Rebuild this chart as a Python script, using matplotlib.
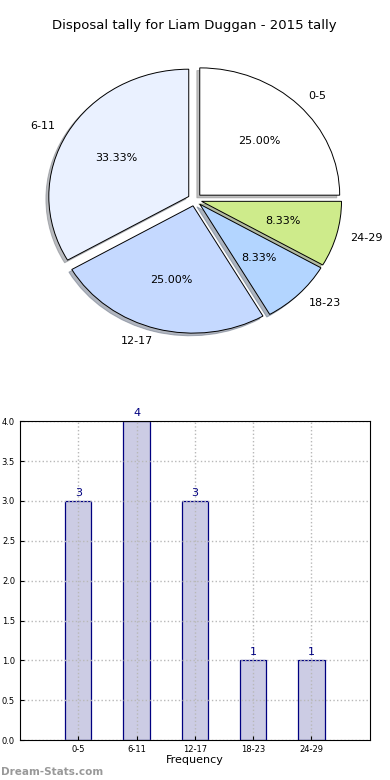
import matplotlib
matplotlib.use("Agg")
import matplotlib.pyplot as plt

# Disposal tally data
bins = ["0-5", "6-11", "12-17", "18-23", "24-29"]
counts = [3, 4, 3, 1, 1]
pie_colors = ["#ffffff", "#eaf1ff", "#c5d9ff", "#b3d5ff", "#ceeb8b"]

fig = plt.figure(figsize=(3.9, 7.8), dpi=100)

# Pie chart (top)
ax1 = fig.add_axes([0.051, 0.540, 0.897, 0.408])
wedges, texts, autotexts = ax1.pie(
    counts, labels=bins, colors=pie_colors, autopct="%.2f%%",
    explode=[0.05] * len(counts),
    shadow={"ox": -0.015, "oy": -0.015, "shade": 0.5}, startangle=0,
    wedgeprops={"edgecolor": "black", "linewidth": 0.7},
    textprops={"fontsize": 8},
)
ax1.set_aspect("auto")
ax1.set_xlim(-1.25, 1.25)
ax1.set_ylim(-1.25, 1.25)
ax1.set_title("Disposal tally for Liam Duggan - 2015 tally", fontsize=9.5, pad=8)

# Bar chart (bottom)
ax2 = fig.add_axes([0.051, 0.051, 0.897, 0.409])
x = list(range(len(bins)))
bars = ax2.bar(x, counts, width=0.45, color="#ccccE4", edgecolor="#000080", linewidth=0.9)
for xi, c in zip(x, counts):
    ax2.text(xi, c + 0.04, str(c), ha="center", va="bottom", fontsize=8, color="#000080")
ax2.set_xlim(-1, 5)
ax2.set_ylim(0, 4)
ax2.set_xticks(x)
ax2.set_xticklabels(bins, fontsize=6)
ax2.set_yticks([i * 0.5 for i in range(9)])
ax2.tick_params(axis="y", labelsize=6)
ax2.tick_params(length=3, direction="in")
ax2.grid(True, linestyle=":", color="#b8b8b8", linewidth=1)
ax2.set_axisbelow(False)
for sp in ax2.spines.values():
    sp.set_zorder(5)
ax2.set_xlabel("Frequency", fontsize=8, labelpad=1)

# Watermark
fig.text(0.002, 0.006, "Dream-Stats.com", fontsize=7.5, color="#999999", fontweight="bold")

fig.savefig("out.png", dpi=100)
